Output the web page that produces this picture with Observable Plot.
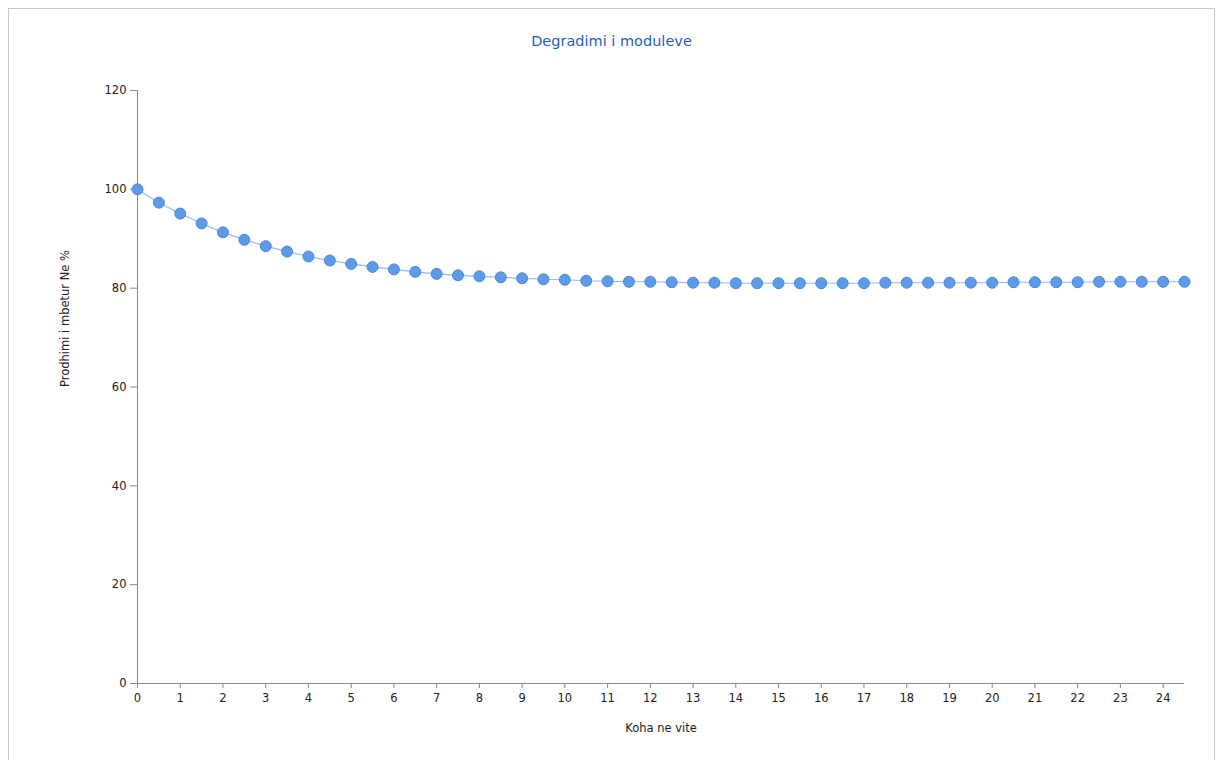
<!DOCTYPE html>
<html>
<head>
<meta charset="utf-8">
<script src="https://cdn.jsdelivr.net/npm/d3@7"></script>
<script src="https://cdn.jsdelivr.net/npm/@observablehq/plot@0.6"></script>
<style>
  html, body { margin: 0; padding: 0; background: #fff; }
  #wrap { position: relative; width: 1223px; height: 767px; overflow: hidden; font-family: "DejaVu Sans", sans-serif; }
  #frame { position: absolute; left: 8px; top: 8px; width: 1207px; height: 752px; border: 1px solid #c8c8c8; border-bottom: none; box-sizing: border-box; }
  #title { position: absolute; left: 0; width: 1223px; top: 33px; text-align: center; color: #1f5fbf; font-size: 14.5px; height: 27px; }
  #chart { position: absolute; left: 0; top: 60px; }
</style>
</head>
<body>
<div id="wrap">
  <div id="frame"></div>
  <div id="title">Degradimi i moduleve</div>
  <div id="chart"></div>
</div>
<script>
const years = [0,0.5,1,1.5,2,2.5,3,3.5,4,4.5,5,5.5,6,6.5,7,7.5,8,8.5,9,9.5,10,10.5,11,11.5,12,12.5,13,13.5,14,14.5,15,15.5,16,16.5,17,17.5,18,18.5,19,19.5,20,20.5,21,21.5,22,22.5,23,23.5,24,24.5];
const remaining = [100,97.3,95.1,93.1,91.3,89.8,88.5,87.4,86.4,85.6,84.9,84.3,83.8,83.3,82.9,82.6,82.4,82.2,82.0,81.8,81.7,81.5,81.4,81.3,81.3,81.2,81.1,81.1,81.0,81.0,81.0,81.0,81.0,81.0,81.0,81.1,81.1,81.1,81.1,81.1,81.1,81.2,81.2,81.2,81.2,81.3,81.3,81.3,81.3,81.3];
const xTicks = [0,1,2,3,4,5,6,7,8,9,10,11,12,13,14,15,16,17,18,19,20,21,22,23,24];
const yTicks = [0,20,40,60,80,100,120];
const xLabel = "Koha ne vite";
const yLabel = "Prodhimi i mbetur Ne %";

const data = years.map((t, i) => ({t, v: remaining[i]}));

const chart = Plot.plot({
  width: 1223,
  height: 707,
  marginLeft: 137,
  marginRight: 39,
  marginTop: 30,
  marginBottom: 84,
  style: {fontFamily: "DejaVu Sans, sans-serif", fontSize: "11.5px", color: "#222", background: "transparent"},
  x: {domain: [0, 24.5]},
  y: {domain: [0, 120]},
  marks: [
    Plot.ruleX([0], {stroke: "#888", strokeWidth: 1}),
    Plot.ruleY([0], {stroke: "#888", strokeWidth: 1}),
    Plot.axisY({ticks: yTicks, tickSize: 7, tickPadding: 4, stroke: "#888", label: null}),
    Plot.axisX({ticks: xTicks, tickSize: 5, tickPadding: 5, stroke: "#888", label: null}),
    Plot.line(data, {x: "t", y: "v", stroke: "#8dbdf2", strokeWidth: 1.2}),
    Plot.dot(data, {x: "t", y: "v", r: 5.5, fill: "#5d9be9", stroke: "#4a88d8", strokeWidth: 1}),
    Plot.text([xLabel], {frameAnchor: "bottom", dy: 48, fontSize: 11.5, fill: "#222"}),
    Plot.text([yLabel], {frameAnchor: "left", dx: -72, rotate: -90, fontSize: 11.5, fill: "#222"})
  ]
});
document.getElementById("chart").appendChild(chart);
</script>
</body>
</html>
